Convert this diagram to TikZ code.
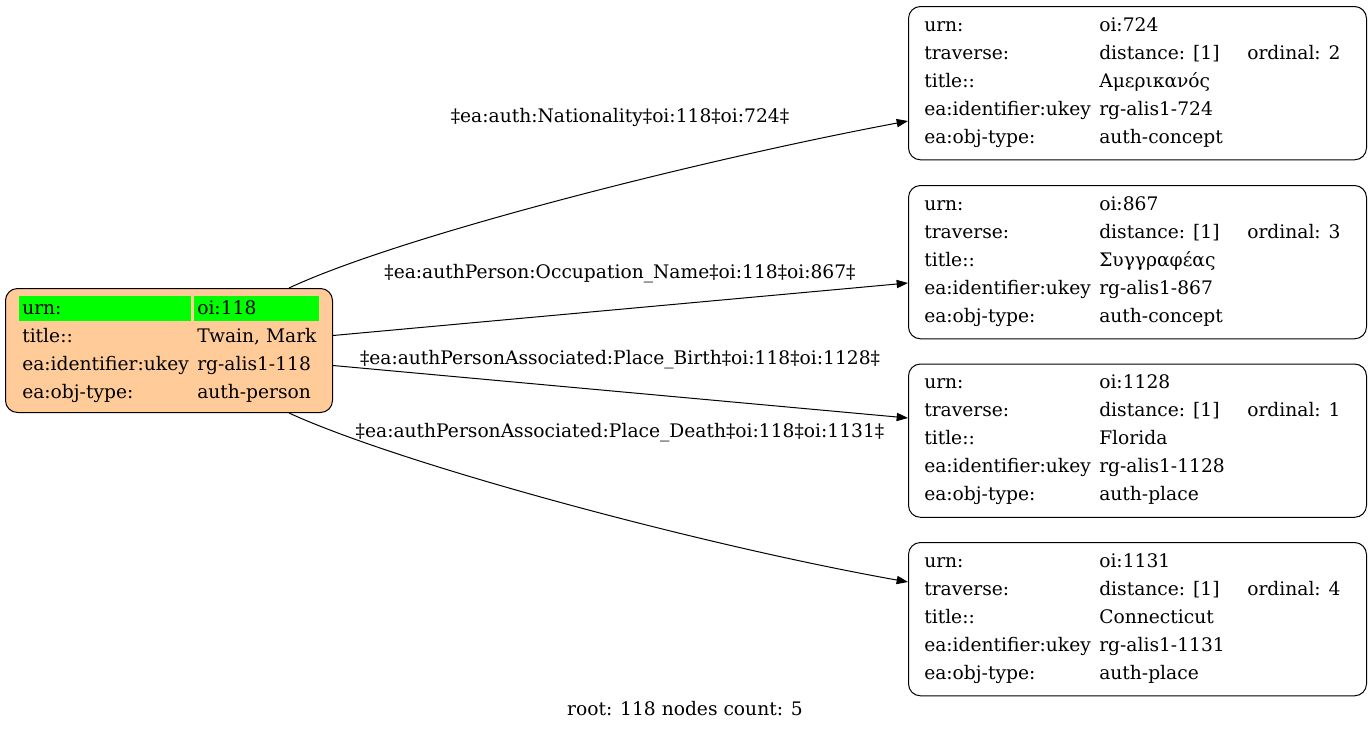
\documentclass[tikz,border=0pt]{standalone}
\usepackage{fontspec}
\setmainfont{DejaVu Serif}
\usetikzlibrary{arrows.meta,calc}
\definecolor{peach}{HTML}{FFCC99}
\definecolor{cellgreen}{HTML}{00FF00}
\tikzset{
  box/.style={draw=black, line width=0.75pt, rounded corners=9pt, anchor=north west, inner sep=0pt},
  txt/.style={anchor=base west, inner sep=0pt, font=\fontsize{14}{17}\selectfont},
  lbl/.style={anchor=base, inner sep=0pt, font=\fontsize{14}{17}\selectfont},
  edge/.style={draw=black, line width=0.75pt, -{Triangle[length=8.5pt,width=6.2pt]}},
}
\newcommand\rbox[2]{%
  \node[box, minimum width=343.5pt, minimum height=115pt] (#1) at (908,#2) {};}
\newcommand\rrows[7]{% name, top y, urn, ordinal, title, ukey, type
  \node[txt] (#1a1) at (924,#2+25) {urn:};
  \node[txt] (#1b1) at (1099,#2+25) {#3};
  \node[txt] (#1a2) at (924,#2+53) {traverse:};
  \node[txt] (#1b2) at (1099,#2+53) {distance: [1]};
  \node[txt] (#1c2) at (1247,#2+53) {ordinal: #4};
  \node[txt] (#1a3) at (924,#2+81) {title::};
  \node[txt] (#1b3) at (1099,#2+81) {#5};
  \node[txt] (#1a4) at (924,#2+109) {ea:identifier:ukey};
  \node[txt] (#1b4) at (1099,#2+109) {#6};
  \node[txt] (#1a5) at (924,#2+137) {ea:obj-type:};
  \node[txt] (#1b5) at (1099,#2+137) {#7};}
\begin{document}
\begin{tikzpicture}[x=0.75pt,y=-0.75pt]
\useasboundingbox (0,0) rectangle (1372,732);
% left node
\node[box, fill=peach, minimum width=245.25pt, minimum height=93pt] (L) at (5,288) {};
\fill[cellgreen] (19,296) rectangle (191,321);
\fill[cellgreen] (194,296) rectangle (319,321);
\node[txt] (La1) at (22,314) {urn:};
\node[txt] (Lb1) at (197,314) {oi:118};
\node[txt] (La2) at (22,342) {title::};
\node[txt] (Lb2) at (197,342) {Twain, Mark};
\node[txt] (La3) at (22,370) {ea:identifier:ukey};
\node[txt] (Lb3) at (197,370) {rg-alis1-118};
\node[txt] (La4) at (22,398) {ea:obj-type:};
\node[txt] (Lb4) at (197,398) {auth-person};
% right nodes
\rbox{R1}{6}
\rbox{R2}{185}
\rbox{R3}{363.5}
\rbox{R4}{542}
\rrows{P}{6}{oi:724}{2}{Αμερικανός}{rg-alis1-724}{auth-concept}
\rrows{Q}{185}{oi:867}{3}{Συγγραφέας}{rg-alis1-867}{auth-concept}
\rrows{S}{363.5}{oi:1128}{1}{Florida}{rg-alis1-1128}{auth-place}
\rrows{T}{542}{oi:1131}{4}{Connecticut}{rg-alis1-1131}{auth-place}
% edges
\draw[edge] ($(L.north east)+(-44,0)$) .. controls (400,236) and (700,160) .. ($(R1.north west)+(0,115)$);
\draw[edge] ($(L.east)+(0,-15)$) -- ($(R2.north west)+(0,98)$);
\draw[edge] ($(L.east)+(0,15)$) -- ($(R3.north west)+(0,54.5)$);
\draw[edge] ($(L.south east)+(-44,0)$) .. controls (400,464) and (700,545) .. ($(R4.north west)+(0,40)$);
% edge labels
\node[lbl] (E1) at (620,122) {‡ea:auth:Nationality‡oi:118‡oi:724‡};
\node[lbl] (E2) at (620,278) {‡ea:authPerson:Occupation\_Name‡oi:118‡oi:867‡};
\node[lbl] (E3) at (620,364) {‡ea:authPersonAssociated:Place\_Birth‡oi:118‡oi:1128‡};
\node[lbl] (E4) at (620,437) {‡ea:authPersonAssociated:Place\_Death‡oi:118‡oi:1131‡};
% footer
\node[lbl] (F) at (685,715) {root: 118 nodes count: 5};
\end{tikzpicture}
\end{document}
